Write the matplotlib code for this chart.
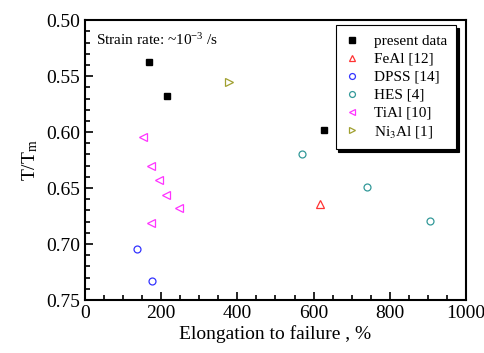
import numpy as np
import matplotlib.pyplot as plt
from matplotlib.ticker import MultipleLocator

plt.rcParams['font.family'] = ['Liberation Serif', 'DejaVu Serif']
plt.rcParams['mathtext.fontset'] = 'stix'

# --- data (elongation %, T/Tm)
present_x = [168, 215, 627]
present_y = [0.537, 0.568, 0.598]
feal_x = [617]
feal_y = [0.664]
dpss_x = [136, 176]
dpss_y = [0.704, 0.733]
hes_x = [570, 740, 906]
hes_y = [0.620, 0.649, 0.679]
tial_x = [152, 173, 194, 213, 247, 173]
tial_y = [0.604, 0.630, 0.643, 0.656, 0.668, 0.681]
ni3al_x = [378]
ni3al_y = [0.555]

fig = plt.figure(figsize=(4.85, 3.53), dpi=100)
ax = fig.add_axes([0.175, 0.150, 0.786, 0.793])

ms = 5
ax.plot(present_x, present_y, 's', color='black', ms=ms, label='present data')
ax.plot(feal_x, feal_y, '^', mfc='none', mec='#ff3333', ms=ms + 0.5, mew=0.9, label='FeAl [12]')
ax.plot(dpss_x, dpss_y, 'o', mfc='none', mec='#3333ff', ms=ms, mew=0.9, label='DPSS [14]')
ax.plot(hes_x, hes_y, 'o', mfc='none', mec='#339999', ms=ms, mew=0.9, label='HES [4]')
ax.plot(tial_x, tial_y, '<', mfc='none', mec='#ff33ff', ms=ms + 0.5, mew=0.9, label='TiAl [10]')
ax.plot(ni3al_x, ni3al_y, '>', mfc='none', mec='#a0a030', ms=ms + 0.5, mew=0.9, label=r'Ni$_3$Al [1]')

ax.set_xlim(0, 1000)
ax.set_ylim(0.75, 0.50)
ax.xaxis.set_major_locator(MultipleLocator(200))
ax.xaxis.set_minor_locator(MultipleLocator(50))
ax.yaxis.set_major_locator(MultipleLocator(0.05))
ax.yaxis.set_minor_locator(MultipleLocator(0.01))
ax.yaxis.set_major_formatter(plt.FormatStrFormatter('%.2f'))
ax.tick_params(which='both', direction='in', top=False, right=False, labelsize=14, width=1.2)
ax.tick_params(which='major', length=6)
ax.tick_params(which='minor', length=3.5)
for s in ax.spines.values():
    s.set_linewidth(1.5)

ax.set_xlabel('Elongation to failure , %', fontsize=14, labelpad=2)
ax.set_ylabel(r'T/T$_\mathregular{m}$', fontsize=14, labelpad=4)

ax.text(0.03, 0.96, r'Strain rate: ~10$^{\mathregular{-3}}$ /s', transform=ax.transAxes,
        fontsize=11, va='top', ha='left')

leg = ax.legend(loc='upper right', fontsize=11, frameon=True, fancybox=False,
                shadow={'color': 'black', 'alpha': 1.0},
                markerscale=0.85, handlelength=1.0, handletextpad=0.9,
                borderpad=0.6, labelspacing=0.28, borderaxespad=0,
                bbox_to_anchor=(0.974, 0.982))
leg.get_frame().set_edgecolor('black')
leg.get_frame().set_linewidth(0.8)
leg.get_frame().set_alpha(1.0)

fig.savefig('out.png', dpi=100)
